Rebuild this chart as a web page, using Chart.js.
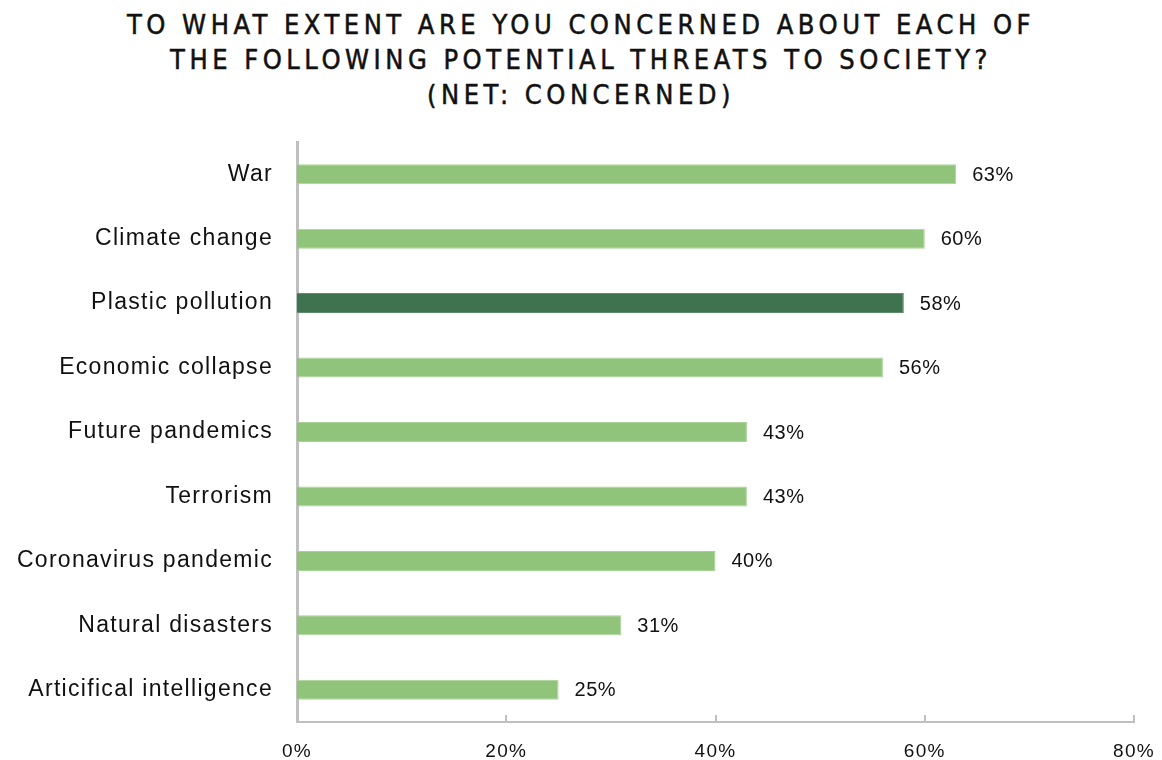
<!DOCTYPE html>
<html>
<head>
<meta charset="utf-8">
<script src="https://cdn.jsdelivr.net/npm/chart.js@4"></script>
<style>
  html, body { margin: 0; padding: 0; background: #fff; }
  #wrap { position: relative; width: 1162px; height: 760px; }
  #title {
    position: absolute; left: 0; top: 7px; width: 1162px;
    text-align: center; font-family: "DejaVu Sans Condensed", "DejaVu Sans", sans-serif;
    font-stretch: condensed;
    font-size: 27px; line-height: 35px; letter-spacing: 4.5px; color: #111; font-weight: normal;
    -webkit-text-stroke: 0.5px #111;
  }
  canvas { position: absolute; left: 0; top: 0; }
</style>
</head>
<body>
<div id="wrap">
  <div id="title">TO WHAT EXTENT ARE YOU CONCERNED ABOUT EACH OF<br>THE FOLLOWING POTENTIAL THREATS TO SOCIETY?<br>(NET: CONCERNED)</div>
  <canvas id="chart" width="1162" height="760"></canvas>
</div>
<script>
const threats = ['War', 'Climate change', 'Plastic pollution', 'Economic collapse', 'Future pandemics',
  'Terrorism', 'Coronavirus pandemic', 'Natural disasters', 'Articifical intelligence'];
const concerned = [63, 60, 58, 56, 43, 43, 40, 31, 25];
const highlight = 'Plastic pollution';
const xTicks = [0, 20, 40, 60, 80];

const lightGreen = '#8fc47a';
const lightEdge = '#a9d396';
const darkGreen = '#3f7350';
const darkEdge = '#5c8c68';

const valueLabels = {
  id: 'valueLabels',
  beforeDraw(chart) {
    chart.ctx.letterSpacing = '1.3px';
  },
  afterDatasetsDraw(chart) {
    const ctx = chart.ctx;
    const meta = chart.getDatasetMeta(0);
    ctx.save();
    ctx.letterSpacing = '0.5px';
    ctx.font = '20px "Liberation Sans", sans-serif';
    ctx.fillStyle = '#111';
    ctx.textBaseline = 'middle';
    ctx.textAlign = 'left';
    meta.data.forEach((bar, i) => {
      ctx.fillText(concerned[i] + '%', bar.x + 16, bar.y + 1);
    });
    // small upward tick marks on the x axis
    const xs = chart.scales.x;
    ctx.strokeStyle = '#bfbfbf';
    ctx.lineWidth = 2;
    xTicks.slice(1).forEach(v => {
      const px = Math.round(xs.getPixelForValue(v));
      ctx.beginPath();
      ctx.moveTo(px, xs.top);
      ctx.lineTo(px, xs.top - 7);
      ctx.stroke();
    });
    ctx.restore();
  }
};

new Chart(document.getElementById('chart'), {
  type: 'bar',
  data: {
    labels: threats,
    datasets: [{
      data: concerned,
      backgroundColor: threats.map(t => t === highlight ? darkGreen : lightGreen),
      borderColor: threats.map(t => t === highlight ? darkEdge : lightEdge),
      borderWidth: 1,
      barPercentage: 0.31,
      categoryPercentage: 1
    }]
  },
  options: {
    indexAxis: 'y',
    responsive: false,
    animation: false,
    layout: { padding: { top: 142, right: 28, left: 0, bottom: 0 } },
    plugins: { legend: { display: false }, tooltip: { enabled: false } },
    scales: {
      x: {
        min: 0,
        max: 80,
        afterBuildTicks: s => { s.ticks = xTicks.map(v => ({ value: v })); },
        afterFit: s => { s.height = 38; s.paddingRight = 0; s.paddingLeft = 0; },
        grid: { display: false, drawTicks: false },
        border: { display: true, color: '#bfbfbf', width: 2 },
        ticks: {
          padding: 18,
          color: '#111',
          font: { size: 19, family: '"Liberation Sans", sans-serif' },
          callback: v => v + '%'
        }
      },
      y: {
        afterFit: s => { s.width = 297; },
        grid: { display: false, drawTicks: false },
        border: { display: true, color: '#bfbfbf', width: 3 },
        ticks: {
          padding: 24,
          color: '#111',
          font: { size: 23, family: '"Liberation Sans", sans-serif' }
        }
      }
    }
  },
  plugins: [valueLabels]
});
</script>
</body>
</html>
